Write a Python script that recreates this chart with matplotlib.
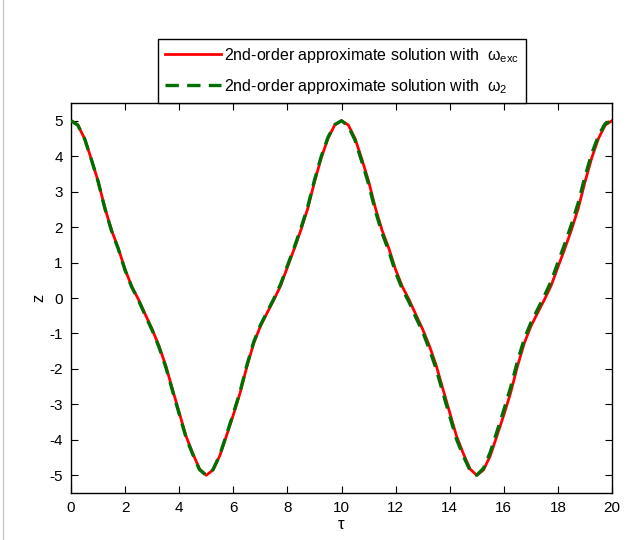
import matplotlib
matplotlib.use("Agg")
import matplotlib.pyplot as plt
from matplotlib.lines import Line2D

plt.rcParams['font.family'] = ['Liberation Sans', 'DejaVu Sans']
plt.rcParams['mathtext.default'] = 'regular'
plt.rcParams['axes.unicode_minus'] = False
plt.rcParams['font.size'] = 11

tau = [0.00, 0.25, 0.50, 0.75, 1.00, 1.25, 1.50, 1.75, 2.00, 2.25,
       2.50, 2.75, 3.00, 3.25, 3.50, 3.75, 4.00, 4.25, 4.50, 4.75,
       5.00, 5.25, 5.50, 5.75, 6.00, 6.25, 6.50, 6.75, 7.00, 7.25,
       7.50, 7.75, 8.00, 8.25, 8.50, 8.75, 9.00, 9.25, 9.50, 9.75,
       10.00, 10.25, 10.50, 10.75, 11.00, 11.25, 11.50, 11.75, 12.00, 12.25,
       12.50, 12.75, 13.00, 13.25, 13.50, 13.75, 14.00, 14.25, 14.50, 14.75,
       15.00, 15.25, 15.50, 15.75, 16.00, 16.25, 16.50, 16.75, 17.00, 17.25,
       17.50, 17.75, 18.00, 18.25, 18.50, 18.75, 19.00, 19.25, 19.50, 19.75,
       20.00]

z_exc = [5.00, 4.88, 4.50, 3.92, 3.30, 2.55, 1.91, 1.40, 0.80, 0.32,
         -0.05, -0.47, -0.88, -1.35, -1.90, -2.57, -3.23, -3.89, -4.38, -4.82,
         -5.00, -4.85, -4.45, -3.88, -3.30, -2.68, -1.94, -1.29, -0.80, -0.42,
         -0.05, 0.35, 0.87, 1.38, 1.92, 2.52, 3.27, 3.95, 4.50, 4.88,
         5.00, 4.88, 4.50, 3.92, 3.30, 2.55, 1.91, 1.40, 0.80, 0.32,
         -0.05, -0.47, -0.88, -1.35, -1.90, -2.57, -3.23, -3.89, -4.38, -4.82,
         -5.00, -4.85, -4.45, -3.88, -3.30, -2.68, -1.94, -1.29, -0.80, -0.42,
         -0.05, 0.35, 0.87, 1.38, 1.92, 2.52, 3.27, 3.95, 4.50, 4.88,
         5.00]

z_w2 = [5.00, 4.88, 4.50, 3.91, 3.29, 2.53, 1.89, 1.38, 0.78, 0.30,
        -0.07, -0.50, -0.91, -1.38, -1.94, -2.61, -3.27, -3.93, -4.41, -4.84,
        -5.00, -4.84, -4.43, -3.85, -3.26, -2.64, -1.90, -1.25, -0.77, -0.39,
        -0.02, 0.39, 0.91, 1.42, 1.97, 2.57, 3.32, 3.99, 4.53, 4.89,
        5.00, 4.85, 4.45, 3.85, 3.22, 2.46, 1.83, 1.32, 0.72, 0.25,
        -0.12, -0.55, -0.95, -1.45, -2.00, -2.68, -3.33, -3.98, -4.45, -4.86,
        -5.00, -4.80, -4.35, -3.76, -3.16, -2.53, -1.80, -1.17, -0.70, -0.32,
        0.06, 0.47, 1.00, 1.52, 2.07, 2.68, 3.42, 4.07, 4.58, 4.92,
        5.00]

labels = [r'2nd-order approximate solution with  $\omega_{exc}$',
          r'2nd-order approximate solution with  $\omega_{2}$']
xticks = list(range(0, 21, 2))
yticks = list(range(-5, 6))

fig = plt.figure(figsize=(6.41, 5.40), dpi=100)
ax = fig.add_axes([71/641, 1-493/540, (612-71)/641, (493-103)/540])

l1, = ax.plot(tau, z_exc, color='#ff0000', lw=2.0, label=labels[0], zorder=2)
l2, = ax.plot(tau, z_w2, color='#006e00', lw=2.4, dashes=(4.0, 2.5), label=labels[1], zorder=3)

ax.set_xlim(0, 20)
ax.set_ylim(-5.5, 5.5)
ax.set_xticks(xticks)
ax.set_yticks(yticks)
ax.tick_params(direction='in', top=True, right=True, length=5, width=0.8,
               labelsize=11, pad=6)
for s in ax.spines.values():
    s.set_linewidth(1.0)
ax.set_xlabel('τ', fontsize=12, labelpad=1)
ax.set_ylabel('z', fontsize=12, labelpad=2)

leg = fig.legend(handles=[l1, l2], loc='lower center',
                 bbox_to_anchor=(0.5335, 1-103/540), fontsize=11.5,
                 frameon=True, fancybox=False, framealpha=1, edgecolor='black',
                 handlelength=3.5, handletextpad=0.2, labelspacing=0.75,
                 borderpad=0.45, borderaxespad=0)
leg.get_frame().set_linewidth(1.0)
leg.set_zorder(10)

fig.add_artist(Line2D([3/641, 3/641], [0, 1], color='#c8c8c8', lw=1))

fig.savefig('out.png', dpi=100)
